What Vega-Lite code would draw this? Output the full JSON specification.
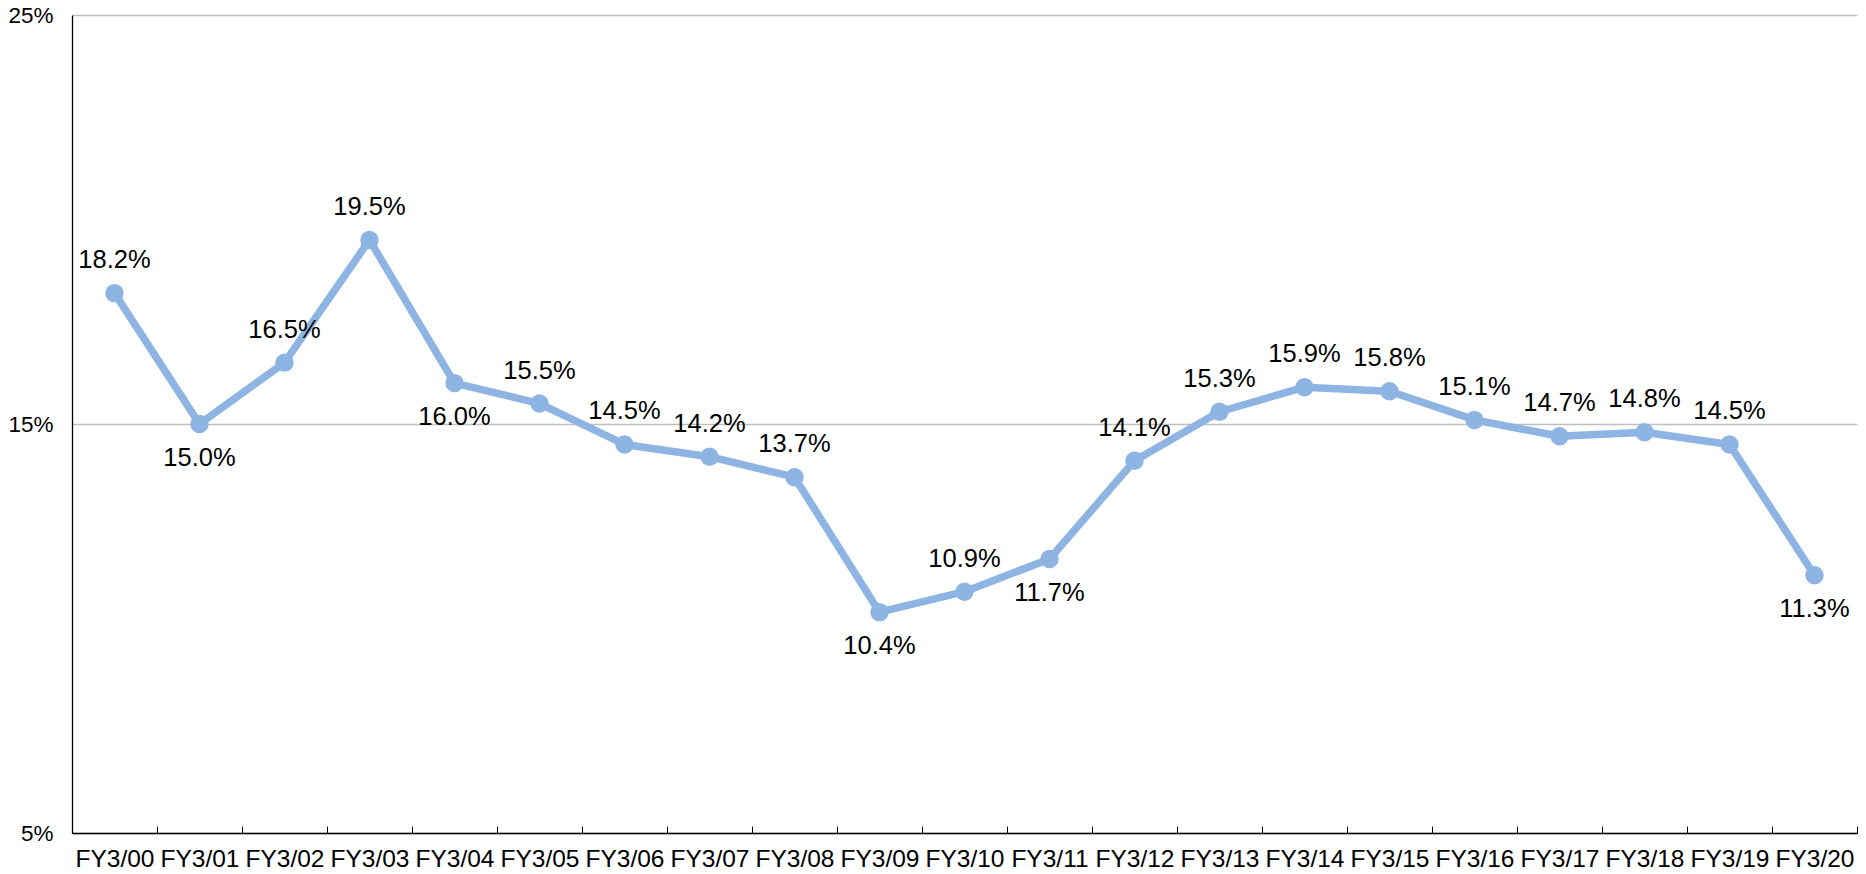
{
  "$schema": "https://vega.github.io/schema/vega-lite/v6.json",
  "autosize": {"type": "none"},
  "padding": {"left": 72, "top": 15, "right": 9, "bottom": 41},
  "width": 1785,
  "height": 818,
  "background": "white",
  "config": {
    "view": {"stroke": null},
    "font": "Liberation Sans"
  },
  "data": {
    "values": [
      {"year": "FY3/00", "value": 0.182},
      {"year": "FY3/01", "value": 0.150},
      {"year": "FY3/02", "value": 0.165},
      {"year": "FY3/03", "value": 0.195},
      {"year": "FY3/04", "value": 0.160},
      {"year": "FY3/05", "value": 0.155},
      {"year": "FY3/06", "value": 0.145},
      {"year": "FY3/07", "value": 0.142},
      {"year": "FY3/08", "value": 0.137},
      {"year": "FY3/09", "value": 0.104},
      {"year": "FY3/10", "value": 0.109},
      {"year": "FY3/11", "value": 0.117},
      {"year": "FY3/12", "value": 0.141},
      {"year": "FY3/13", "value": 0.153},
      {"year": "FY3/14", "value": 0.159},
      {"year": "FY3/15", "value": 0.158},
      {"year": "FY3/16", "value": 0.151},
      {"year": "FY3/17", "value": 0.147},
      {"year": "FY3/18", "value": 0.148},
      {"year": "FY3/19", "value": 0.145},
      {"year": "FY3/20", "value": 0.113}
    ]
  },
  "encoding": {
    "x": {
      "field": "year",
      "type": "ordinal",
      "sort": null,
      "scale": {"paddingInner": 0, "paddingOuter": 0},
      "axis": {
        "title": null,
        "labelAngle": 0,
        "labelFont": "Liberation Sans",
        "labelFontSize": 24.5,
        "labelColor": "#000000",
        "labelPadding": 21,
        "labelBaseline": "top",
        "domainColor": "#000000",
        "domainWidth": 1.3,
        "tickColor": "#000000",
        "tickWidth": 1,
        "tickSize": -7,
        "tickBand": "extent",
        "grid": false
      }
    },
    "y": {
      "field": "value",
      "type": "quantitative",
      "scale": {"domain": [0.05, 0.25], "nice": false, "zero": false},
      "axis": {
        "title": null,
        "values": [0.05, 0.15, 0.25],
        "format": ".0%",
        "labelFont": "Liberation Sans",
        "labelFontSize": 22.5,
        "labelColor": "#000000",
        "labelPadding": 19,
        "ticks": false,
        "domainColor": "#000000",
        "domainWidth": 1.3,
        "grid": true,
        "gridColor": "#BFBFBF",
        "gridWidth": 1.4
      }
    }
  },
  "layer": [
    {
      "mark": {"type": "line", "color": "#8DB4E2", "strokeWidth": 7.5, "strokeJoin": "round"}
    },
    {
      "mark": {"type": "point", "filled": true, "shape": "circle", "color": "#8DB4E2", "opacity": 1, "size": 340}
    },
    {
      "transform": [
        {"filter": {"not": {"field": "year", "oneOf": ["FY3/01", "FY3/04", "FY3/09", "FY3/11", "FY3/20"]}}}
      ],
      "mark": {"type": "text", "dy": -33, "baseline": "middle", "align": "center", "fontSize": 25.5, "font": "Liberation Sans", "color": "#000000"},
      "encoding": {"text": {"field": "value", "type": "quantitative", "format": ".1%"}}
    },
    {
      "transform": [
        {"filter": {"field": "year", "oneOf": ["FY3/01", "FY3/04", "FY3/09", "FY3/11", "FY3/20"]}}
      ],
      "mark": {"type": "text", "dy": 34, "baseline": "middle", "align": "center", "fontSize": 25.5, "font": "Liberation Sans", "color": "#000000"},
      "encoding": {"text": {"field": "value", "type": "quantitative", "format": ".1%"}}
    }
  ]
}
